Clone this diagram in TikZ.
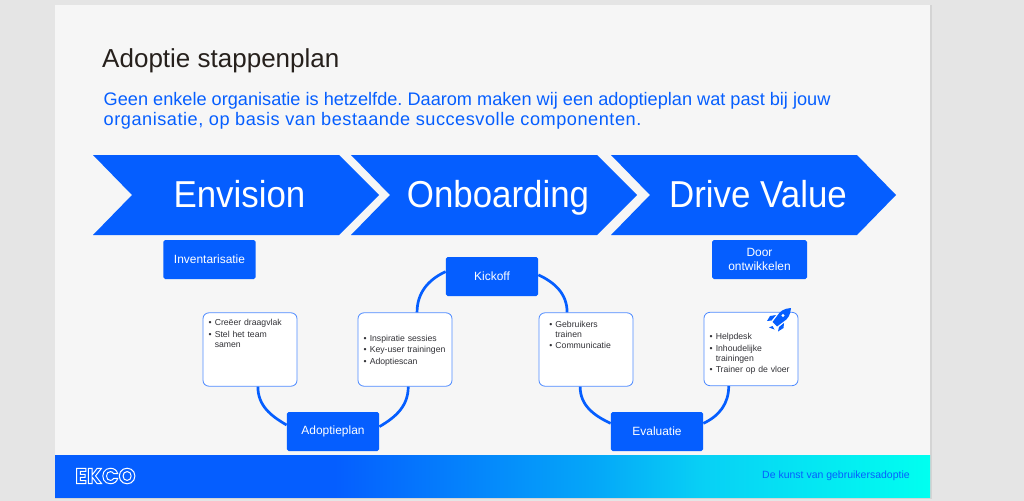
\documentclass[tikz,border=0pt]{standalone}
\usepackage{fontspec}
\usetikzlibrary{positioning, calc, shadings}
\setmainfont{Liberation Sans}
\newfontface\ekcofont{Poppins Bold}
\newfontface\phasefont[FakeStretch=0.93]{Liberation Sans}
\newfontface\introwide[LetterSpace=2.9]{Liberation Sans}
\definecolor{ekcoblue}{RGB}{5,94,255}
\definecolor{ekcomid}{RGB}{5,168,248}
\definecolor{ekcopale}{RGB}{8,208,245}
\definecolor{ekcocyan}{RGB}{0,255,240}
\definecolor{slidegrey}{RGB}{246,246,246}
\definecolor{deskgrey}{RGB}{229,229,229}
\definecolor{shadowgrey}{RGB}{212,212,212}
\definecolor{titledark}{RGB}{38,32,28}
\definecolor{listdark}{RGB}{50,50,55}
\definecolor{wirelight}{RGB}{80,140,255}
\pgfdeclarehorizontalshading{footershade}{100bp}{color(0bp)=(ekcoblue); color(41bp)=(ekcoblue); color(56bp)=(ekcomid); color(62bp)=(ekcopale); color(75bp)=(ekcocyan); color(100bp)=(ekcocyan)}
\tikzset{
  phase/.style={fill=ekcoblue, draw=none},
  phaselabel/.style={anchor=base, text=white, font=\phasefont\fontsize{32}{36}\selectfont},
  stepbox/.style={rectangle, fill=ekcoblue, text=white, minimum width=2.77cm, minimum height=1.17cm,
    text width=2.6cm, align=center, rounded corners=1.5pt, inner sep=0pt,
    font=\fontsize{10.2}{11.6}\selectfont},
  listbox/.style={rectangle, draw=wirelight, fill=white, line width=0.7pt, rounded corners=5pt,
    minimum width=2.82cm, minimum height=2.2cm, text width=2.48cm, align=left, inner sep=0pt,
    text=listdark, font=\fontsize{7.4}{8.5}\selectfont},
  cycleline/.style={ekcoblue, line width=2.3pt}
}
\newcommand{\listline}[1]{\par\hangindent=5.2pt\hangafter=1\leavevmode\hbox to 5.2pt{\textbullet\hfil}#1\par\vspace{1.3pt}}
\frenchspacing
\begin{document}
\begin{tikzpicture}[x=0.03cm, y=-0.03cm]
  \useasboundingbox (0,0) rectangle (1024,501);
  % Desk and slide
  \fill[deskgrey] (0,0) rectangle (1024,501);
  \fill[shadowgrey] (54.5,4.5) rectangle (932,499);
  \fill[slidegrey] (55,5) rectangle (930,455);
  \shade[shading=footershade] (55,455) rectangle (930,497);

  % Heading
  \node[anchor=base west, inner sep=0pt, text=titledark, font=\fontsize{22.2}{26}\selectfont] (title) at (102,67) {Adoptie stappenplan};
  \node[anchor=north west, inner sep=0pt, text=ekcoblue, align=left, font=\fontsize{15.5}{17}\selectfont] (intro) at (103.5,92)
    {Geen enkele organisatie is hetzelfde. Daarom maken wij een adoptieplan wat past bij jouw\\{\introwide\fontsize{15.5}{17}\selectfont organisatie, op basis van bestaande succesvolle componenten.}};

  % Phases
  \fill[phase] (93,155) -- (339,155) -- (379,195) -- (339,235) -- (93,235) -- (132,195) -- cycle;
  \fill[phase] (351,155) -- (597,155) -- (637,195) -- (597,235) -- (351,235) -- (390,195) -- cycle;
  \fill[phase] (611,155) -- (857,155) -- (896,195) -- (857,235) -- (611,235) -- (650,195) -- cycle;
  \node[phaselabel] (envision) at (239.5,207) {Envision};
  \node[phaselabel] (onboarding) at (498,207) {Onboarding};
  \node[phaselabel] (drivevalue) at (758,207) {Drive Value};

  % Steps
  \node[stepbox] (inventarisatie) at (209.5,259.5) {Inventarisatie};
  \node[stepbox] (kickoff) at (492,276.5) {Kickoff};
  \node[stepbox] (adoptieplan) at (333,431.5) {Adoptieplan};
  \node[stepbox] (evaluatie) at (657,431.5) {Evaluatie};
  \node[stepbox, minimum width=2.85cm] (door) at (759.5,259.5) {Door\\ontwikkelen};

  % Lists
  \node[listbox] (draagvlak) at (250,349.5) {\listline{Creëer draagvlak}\listline{Stel het team\newline samen}\vspace{29pt}};
  \node[listbox] (sessies) at (405,349.5) {\listline{Inspiratie sessies}\listline{Key-user trainingen}\listline{Adoptiescan}};
  \node[listbox, text width=2.2cm] (trainen) at (586,349.5) {\listline{Gebruikers\newline trainen}\listline{Communicatie}\vspace{27pt}};
  \node[listbox] (helpdesk) at (751,349) {\vspace*{7pt}\listline{Helpdesk}\listline{Inhoudelijke\newline trainingen}\listline{Trainer op de vloer}};

  % Cycle
  \draw[cycleline] (draagvlak.-78) to[out=-90, in=150] (adoptieplan.172);
  \draw[cycleline] (adoptieplan.6) to[out=30, in=-90] (sessies.-85);
  \draw[cycleline] (sessies.72) to[out=90, in=205] (kickoff.174);
  \draw[cycleline] (kickoff.2) to[out=-25, in=90] (trainen.117);
  \draw[cycleline] (trainen.-99) to[out=-90, in=155] (evaluatie.170);
  \draw[cycleline] (evaluatie.10) to[out=25, in=-90] (helpdesk.-121);

  % Rocket
  \fill[ekcoblue] (791,308) .. controls (784,308.5) and (780,311) .. (777,316) -- (772.5,322) -- (777,326.5) -- (783,322) .. controls (788,319) and (790.5,315) .. (791,308) -- cycle;
  \fill[ekcoblue] (776,315) -- (770,316) -- (767,321) -- (771.5,320.5) -- cycle;
  \fill[ekcoblue] (784,323) -- (783.5,328) -- (778,331.5) -- (779,327) -- cycle;
  \fill[ekcoblue] (772.5,326) -- (769,327.5) -- (774.5,329.5) -- cycle;
  \fill[white] (783,315.5) circle (1.7);

  % Footer
  \node[anchor=west, inner sep=0pt, text=white, font=\ekcofont\fontsize{18.5}{18.5}\selectfont] (logo) at (75,476) {\special{pdf:code 1 Tr 0.85 w}EKCO\special{pdf:code 0 Tr}};
  \node[anchor=west, inner sep=0pt, text=ekcoblue, font=\fontsize{8.95}{10}\selectfont] (slogan) at (762,476) {De kunst van gebruikersadoptie};
\end{tikzpicture}
\end{document}
